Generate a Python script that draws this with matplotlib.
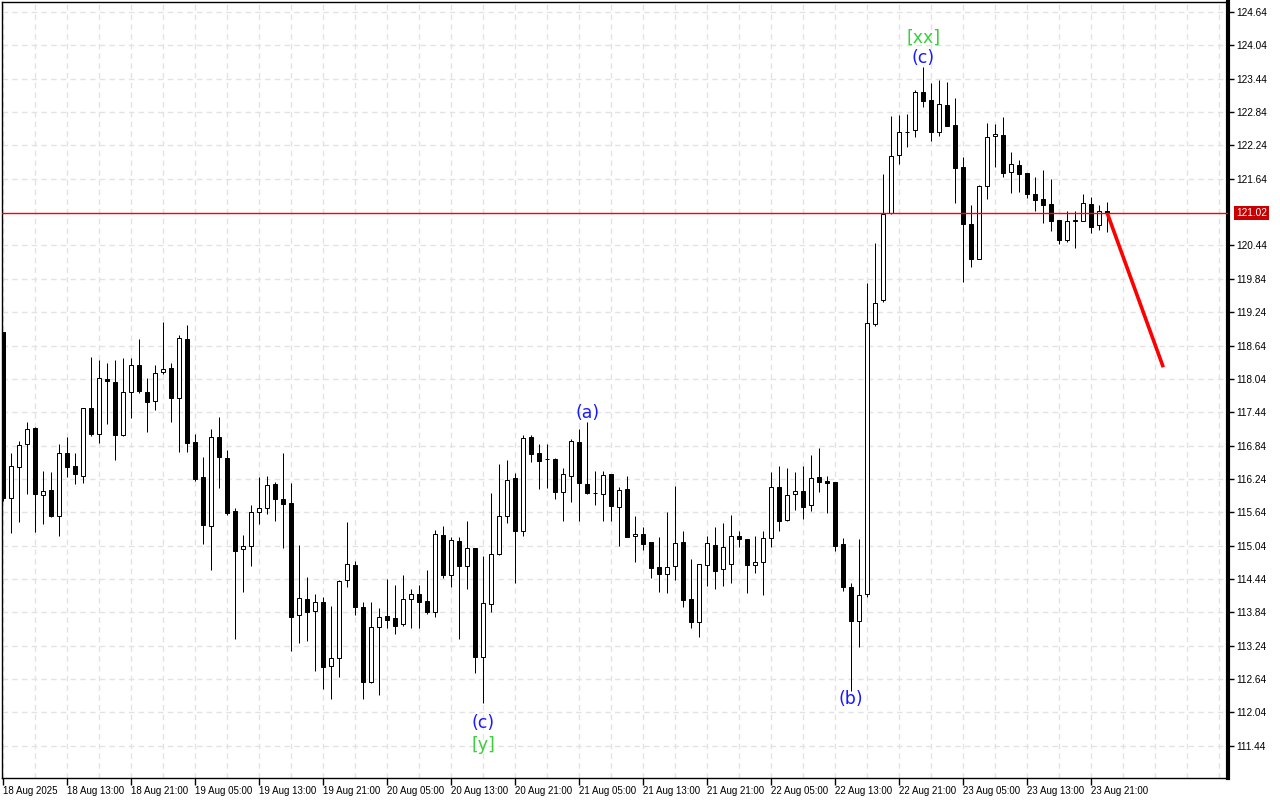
import matplotlib
matplotlib.use("Agg")
import numpy as np
import matplotlib.pyplot as plt

# hourly candles, first bar = 18 Aug 2025 05:00
opens = [118.89, 115.90, 116.46, 116.87, 117.16, 115.95, 116.04, 115.58, 116.71, 116.48,
         116.30, 117.52, 117.05, 118.04, 117.99, 117.03, 117.81, 118.29, 117.81, 117.64,
         118.17, 118.24, 117.70, 118.76, 116.91, 116.28, 115.40, 117.00, 116.62, 115.67,
         114.98, 115.03, 115.65, 115.72, 116.15, 115.88, 115.81, 113.79, 114.08, 113.87,
         114.03, 112.88, 113.02, 114.42, 114.69, 113.94, 112.59, 113.58, 113.78, 113.74,
         113.63, 114.08, 114.17, 114.05, 113.85, 115.23, 114.51, 115.13, 114.68, 115.00,
         113.04, 113.99, 114.89, 115.58, 116.26, 115.31, 117.00, 116.71, 116.60, 116.60,
         116.01, 116.30, 116.91, 116.15, 115.99, 115.97, 116.33, 115.74, 116.06, 115.22,
         115.25, 115.11, 114.66, 114.53, 114.68, 115.11, 114.08, 113.67, 114.69, 115.05,
         114.62, 114.71, 115.22, 115.16, 114.69, 114.75, 115.18, 116.10, 115.50, 115.97,
         116.02, 115.77, 116.28, 116.21, 116.19, 115.07, 114.30, 113.69, 114.17, 119.03,
         119.46, 121.02, 122.07, 122.48, 122.52, 123.20, 123.06, 122.48, 122.97, 122.61,
         121.85, 120.83, 120.20, 121.51, 122.41, 122.43, 121.76, 121.89, 121.75, 121.37,
         121.28, 121.19, 120.90, 120.54, 120.88, 120.88, 121.19, 120.81, 121.06]
highs = [118.89, 116.71, 116.92, 117.27, 117.18, 116.38, 116.37, 116.87, 116.99, 116.71,
         117.52, 118.44, 118.38, 118.33, 118.38, 118.42, 118.42, 118.76, 118.06, 118.29,
         119.06, 118.33, 118.83, 119.01, 117.05, 116.64, 117.14, 117.36, 116.76, 115.72,
         115.23, 115.77, 116.28, 116.30, 116.19, 116.71, 116.17, 115.05, 114.48, 114.17,
         114.12, 113.96, 114.42, 115.47, 114.77, 114.03, 114.03, 113.92, 114.44, 114.33,
         114.51, 114.26, 114.33, 114.60, 115.32, 115.39, 115.20, 115.20, 115.49, 115.00,
         114.86, 115.99, 116.51, 116.58, 116.35, 117.03, 117.03, 116.87, 116.87, 116.62,
         116.44, 116.96, 117.14, 117.27, 116.38, 116.38, 116.33, 116.10, 116.30, 115.57,
         115.38, 115.11, 115.20, 115.65, 116.12, 115.30, 114.80, 114.71, 115.21, 115.38,
         115.45, 115.59, 115.31, 115.16, 115.21, 115.31, 116.37, 116.48, 116.44, 116.37,
         116.48, 116.67, 116.80, 116.30, 116.19, 115.18, 114.37, 115.16, 119.77, 120.49,
         121.73, 122.77, 122.79, 122.81, 123.24, 123.65, 123.36, 123.42, 123.38, 123.09,
         122.03, 121.17, 121.53, 122.64, 122.63, 122.75, 122.12, 121.98, 121.75, 121.67,
         121.80, 121.64, 120.90, 121.06, 121.06, 121.37, 121.31, 121.17, 121.22]
lows = [115.85, 115.27, 115.47, 115.97, 115.29, 115.43, 115.56, 115.22, 116.28, 116.15,
        116.17, 117.01, 116.89, 117.23, 116.58, 117.01, 117.34, 117.79, 117.08, 117.48,
        118.13, 117.27, 116.73, 116.73, 116.21, 115.07, 114.60, 116.08, 115.59, 113.36,
        114.21, 114.68, 115.43, 115.61, 115.49, 114.99, 113.15, 113.29, 113.33, 112.79,
        112.46, 112.28, 112.68, 114.30, 113.79, 112.28, 112.57, 112.36, 113.56, 113.45,
        113.60, 113.56, 113.56, 113.81, 113.76, 114.46, 114.30, 113.36, 114.26, 112.75,
        112.21, 113.85, 114.87, 115.45, 114.37, 115.22, 116.55, 116.06, 116.08, 115.88,
        115.49, 115.83, 115.49, 115.97, 115.77, 115.49, 115.49, 115.03, 115.20, 114.75,
        114.96, 114.46, 114.21, 114.19, 114.42, 113.94, 113.56, 113.40, 114.32, 114.26,
        114.32, 114.37, 115.02, 114.19, 114.55, 114.15, 115.02, 115.31, 115.49, 115.68,
        115.52, 115.66, 116.01, 115.63, 114.95, 114.23, 112.43, 113.22, 114.11, 118.99,
        119.42, 121.01, 121.91, 122.21, 122.39, 122.93, 122.32, 122.41, 122.59, 121.20,
        119.78, 120.05, 120.20, 121.28, 121.85, 121.67, 121.38, 121.40, 121.29, 121.06,
        120.85, 120.70, 120.47, 120.50, 120.40, 120.88, 120.66, 120.72, 120.68]
closes = [115.90, 116.48, 116.85, 117.14, 115.97, 116.02, 115.58, 116.71, 116.46, 116.33,
          117.52, 117.05, 118.06, 118.00, 117.03, 117.81, 118.29, 117.82, 117.63, 118.15,
          118.22, 117.70, 118.78, 116.89, 116.24, 115.41, 117.00, 116.64, 115.63, 114.95,
          115.03, 115.65, 115.72, 116.13, 115.88, 115.79, 113.75, 114.10, 113.85, 114.03,
          112.86, 113.02, 114.41, 114.71, 113.94, 112.59, 113.58, 113.76, 113.71, 113.60,
          114.08, 114.17, 114.03, 113.85, 115.25, 114.51, 115.14, 114.68, 115.00, 113.04,
          114.01, 114.89, 115.58, 116.22, 115.31, 116.98, 116.69, 116.56, 116.60, 116.01,
          116.33, 116.92, 116.17, 115.99, 115.98, 116.31, 115.75, 116.04, 115.20, 115.25,
          115.07, 114.64, 114.53, 114.66, 115.09, 114.06, 113.67, 114.71, 115.09, 114.59,
          115.02, 115.22, 115.16, 114.69, 114.75, 115.18, 116.10, 115.49, 115.95, 116.02,
          115.74, 116.26, 116.19, 116.17, 115.03, 114.30, 113.69, 114.15, 119.05, 119.41,
          121.01, 122.05, 122.48, 122.48, 123.20, 123.04, 122.48, 122.99, 122.59, 121.83,
          120.83, 120.20, 121.51, 122.39, 122.45, 121.75, 121.91, 121.73, 121.37, 121.26,
          121.17, 120.88, 120.54, 120.88, 120.89, 121.21, 120.77, 121.06, 121.02]

current_price = 121.02
forecast_x = [138, 145]
forecast_y = [121.02, 118.25]

# wave labels: (bar, price, text, colour)
wave_labels = [
    (115, 123.81, "(c)", "#1a1aff"),
    (115, 124.17, "[xx]", "#3ccf3c"),
    (73, 117.43, "(a)", "#1a1aff"),
    (60, 111.85, "(c)", "#1a1aff"),
    (60, 111.46, "[y]", "#3ccf3c"),
    (106, 112.28, "(b)", "#1a1aff"),
]

x_tick_bars = [0, 8, 16, 24, 32, 40, 48, 56, 64, 72, 80, 88, 96, 104, 112, 120, 128, 136]
x_tick_labels = ["18 Aug 2025", "18 Aug 13:00", "18 Aug 21:00", "19 Aug 05:00", "19 Aug 13:00",
                 "19 Aug 21:00", "20 Aug 05:00", "20 Aug 13:00", "20 Aug 21:00", "21 Aug 05:00",
                 "21 Aug 13:00", "21 Aug 21:00", "22 Aug 05:00", "22 Aug 13:00", "22 Aug 21:00",
                 "23 Aug 05:00", "23 Aug 13:00", "23 Aug 21:00"]
y_ticks = [124.64, 124.04, 123.44, 122.84, 122.24, 121.64, 120.44, 119.84, 119.24,
           118.64, 118.04, 117.44, 116.84, 116.24, 115.64, 115.04, 114.44, 113.84,
           113.24, 112.64, 112.04, 111.44]

fig = plt.figure(figsize=(12.8, 8), dpi=100)
ax = fig.add_axes([2 / 1280, 22 / 800, 1226 / 1280, 776 / 800])

o = np.array(opens)
h = np.array(highs)
l = np.array(lows)
c = np.array(closes)
x = np.arange(len(o))
up = c >= o

px = 0.72  # one pixel in points
ax.vlines(x, l, h, color="black", lw=px, zorder=3)
ax.bar(x, np.abs(c - o), bottom=np.minimum(o, c), width=0.55,
       color=np.where(up, "white", "black"), edgecolor="black", linewidth=px, zorder=4)

ax.axhline(current_price, color="#ff0000", lw=1, zorder=5)
ax.plot(forecast_x, forecast_y, color="#ff0000", lw=2.6, solid_capstyle="butt", zorder=6)

for bx, py, txt, col in wave_labels:
    ax.text(bx, py, txt, color=col, fontsize=12.5, ha="center", va="center", zorder=7)

ax.set_xlim(-0.16, 153.09)
ax.set_ylim(110.86, 124.82)

ax.set_xticks(x_tick_bars)
ax.set_xticklabels(x_tick_labels, fontsize=7, family="Liberation Sans", ha="left")
ax.set_xticks(np.arange(0, 154, 4), minor=True)
ax.tick_params(axis="x", which="major", direction="out", length=5, width=1, pad=1)
ax.tick_params(axis="x", which="minor", length=0)

ax.yaxis.tick_right()
ax.set_yticks(y_ticks)
ax.set_yticklabels([f"{v:.2f}" for v in y_ticks], fontsize=7.2, family="Liberation Sans")
ax.tick_params(axis="y", direction="out", length=4, width=1, pad=2)

ax.grid(True, which="both", axis="x", color="#e3e3e3", linestyle=(0, (4, 3)), lw=1, zorder=0)
ax.grid(True, which="major", axis="y", color="#e3e3e3", linestyle=(0, (4, 3)), lw=1, zorder=0)
ax.set_axisbelow(True)

for side in ["left", "top", "bottom"]:
    ax.spines[side].set_linewidth(1)
ax.spines["right"].set_linewidth(3)

ax.annotate(f"{current_price:.2f}", xy=(1.0, current_price), xycoords=("axes fraction", "data"),
            xytext=(6, 0), textcoords="offset points", ha="left", va="center",
            color="white", fontsize=7.2, family="Liberation Sans", annotation_clip=False,
            bbox=dict(boxstyle="square,pad=0.2", fc="#c80000", ec="none"), zorder=10)

fig.savefig("out.png", dpi=100, facecolor="white")
